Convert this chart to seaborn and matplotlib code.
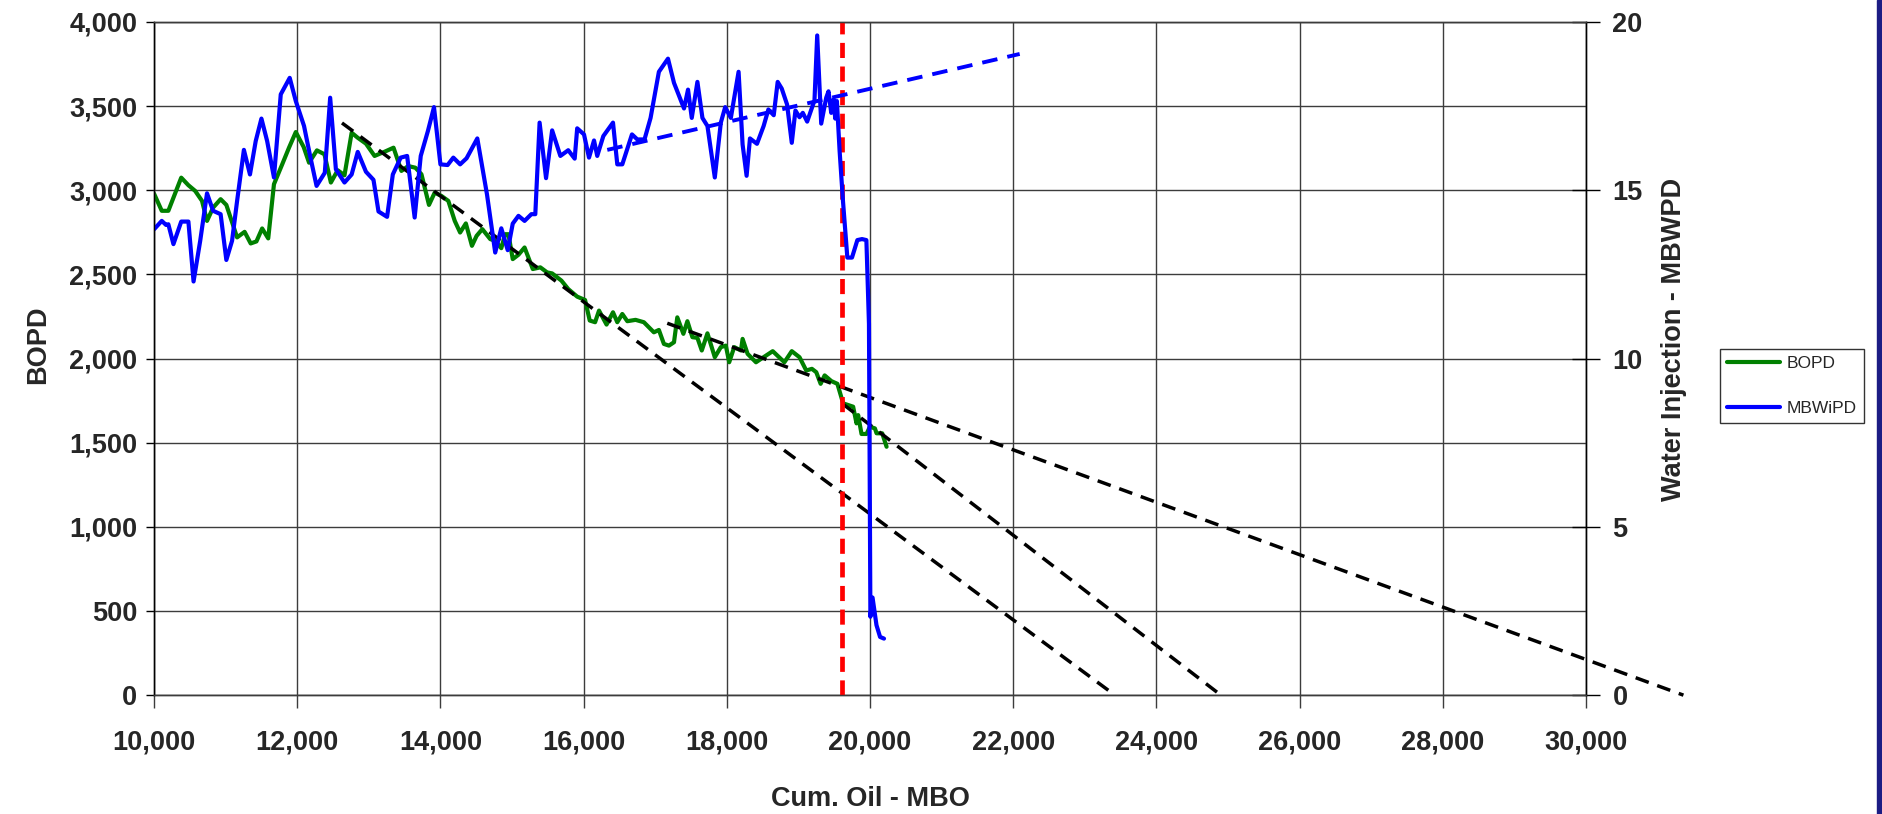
import matplotlib
matplotlib.use("Agg")
import matplotlib.pyplot as plt
import matplotlib.ticker as mticker
from matplotlib.patches import Rectangle
import seaborn as sns
import pandas as pd

# ---------------------------------------------------
# DATA
# ---------------------------------------------------

bopd_cum = [10000, 10108, 10200, 10380, 10480, 10575, 10670, 10740, 10825, 10930,
            11010, 11160, 11265, 11350, 11430, 11510, 11595, 11675, 11790, 11885,
            11980, 12090, 12165, 12275, 12380, 12470, 12565, 12660, 12760, 12845,
            12960, 13080, 13220, 13345, 13455, 13550, 13650, 13735, 13840, 13920,
            14015, 14110, 14200, 14275, 14355, 14440, 14505, 14585, 14695, 14765,
            14850, 14905, 14950, 15010, 15090, 15175, 15290, 15395, 15490, 15560,
            15690, 15785, 15910, 16020, 16085, 16160, 16215, 16320, 16410, 16470,
            16540, 16610, 16725, 16841, 16981, 17051, 17121, 17191, 17262, 17308,
            17393, 17449, 17519, 17589, 17650, 17729, 17832, 17916, 17986, 18033,
            18103, 18197, 18220, 18290, 18407, 18477, 18641, 18804, 18907, 19015,
            19109, 19188, 19249, 19310, 19366, 19460, 19544, 19624, 19694, 19764,
            19811, 19834, 19881, 19951, 19998, 20068, 20091, 20170, 20231]

bopd = [2980, 2878, 2878, 3075, 3030, 2996, 2937, 2818, 2897, 2947,
        2913, 2720, 2753, 2684, 2696, 2773, 2714, 3036, 3154, 3253,
        3346, 3257, 3164, 3237, 3214, 3046, 3119, 3089, 3342, 3312,
        3277, 3204, 3229, 3253, 3115, 3144, 3134, 3095, 2913, 2986,
        2966, 2937, 2818, 2749, 2803, 2670, 2729, 2769, 2710, 2700,
        2656, 2739, 2739, 2591, 2617, 2660, 2532, 2542, 2512, 2506,
        2463, 2413, 2368, 2348, 2226, 2216, 2285, 2202, 2275, 2216,
        2265, 2222, 2230, 2216, 2156, 2170, 2087, 2077, 2097, 2245,
        2147, 2222, 2127, 2123, 2048, 2150, 2008, 2068, 2077, 1978,
        2068, 2048, 2117, 2028, 1978, 1998, 2044, 1978, 2044, 2008,
        1929, 1939, 1919, 1850, 1900, 1866, 1850, 1734, 1724, 1714,
        1615, 1664, 1552, 1552, 1595, 1585, 1556, 1556, 1476]

wi_cum = [10000, 10108, 10168, 10200, 10271, 10380, 10480, 10552, 10645, 10740,
          10825, 10930, 11010, 11090, 11160, 11255, 11340, 11420, 11500, 11580,
          11675, 11770, 11895, 11980, 12095, 12180, 12270, 12385, 12460, 12540,
          12660, 12760, 12845, 12960, 13065, 13135, 13255, 13335, 13445, 13535,
          13640, 13725, 13825, 13910, 14000, 14100, 14180, 14275, 14365, 14515,
          14650, 14765, 14850, 14940, 15010, 15090, 15175, 15270, 15325, 15385,
          15475, 15560, 15675, 15785, 15875, 15910, 16005, 16075, 16145, 16190,
          16275, 16410, 16470, 16540, 16675, 16750, 16850, 16935, 17051, 17178,
          17262, 17402, 17458, 17510, 17589, 17659, 17729, 17832, 17916, 17977,
          18056, 18164, 18220, 18276, 18323, 18421, 18514, 18580, 18655, 18710,
          18767, 18841, 18907, 18958, 19015, 19061, 19122, 19188, 19224, 19262,
          19318, 19388, 19420, 19458, 19491, 19514, 19537, 19575, 19622, 19683,
          19748, 19823, 19888, 19949, 19985, 20005, 20035, 20090, 20140, 20195]

mbwipd = [13.84, 14.09, 13.97, 13.99, 13.40, 14.07, 14.07, 12.29, 13.50, 14.91,
          14.39, 14.29, 12.93, 13.50, 14.68, 16.20, 15.47, 16.46, 17.13, 16.46,
          15.38, 17.85, 18.34, 17.65, 16.91, 16.02, 15.13, 15.52, 17.75, 15.62,
          15.23, 15.47, 16.14, 15.55, 15.31, 14.37, 14.21, 15.47, 15.97, 16.02,
          14.19, 16.02, 16.76, 17.47, 15.77, 15.75, 15.97, 15.77, 15.95, 16.54,
          14.88, 13.15, 13.87, 13.22, 14.01, 14.24, 14.09, 14.29, 14.29, 17.01,
          15.36, 16.78, 16.02, 16.19, 15.94, 16.84, 16.66, 15.97, 16.48, 16.02,
          16.61, 17.01, 15.77, 15.77, 16.66, 16.51, 16.51, 17.15, 18.52, 18.91,
          18.19, 17.43, 17.99, 17.15, 18.22, 17.15, 16.91, 15.38, 17.01, 17.47,
          17.15, 18.52, 16.36, 15.43, 16.54, 16.38, 16.91, 17.40, 17.23, 18.22,
          18.02, 17.55, 16.41, 17.37, 17.17, 17.30, 17.04, 17.45, 17.67, 19.60,
          16.98, 17.75, 17.94, 17.30, 17.70, 17.13, 17.65, 16.17, 14.68, 13.00,
          13.00, 13.52, 13.55, 13.52, 11.03, 2.33, 2.90, 2.08, 1.73, 1.68]

# decline trend lines (BOPD axis)
trend_a_x = [12625, 23420]
trend_a_y = [3400, 0]
trend_b_x = [17168, 31360]
trend_b_y = [2210, 0]
trend_c_x = [19620, 24900]
trend_c_y = [1730, 0]

# injection trend (right axis)
wi_trend_x = [16330, 22090]
wi_trend_y = [16.2, 19.05]

event_cum = 19610

x_ticks = list(range(10000, 30001, 2000))
y_ticks = list(range(0, 4001, 500))
y2_ticks = [0, 5, 10, 15, 20]

# ---------------------------------------------------
# STYLE
# ---------------------------------------------------

sns.set_theme(style="white")
plt.rcParams["font.family"] = ["Liberation Sans", "DejaVu Sans"]

GREEN = "#008000"
BLUE = "#0000ff"
GRID = "#3c3c3c"
FS = 19.5

fig = plt.figure(figsize=(18.83, 8.14), dpi=100)
ax = fig.add_axes([0.0818, 0.146, 0.7605, 0.827])
ax2 = ax.twinx()

# ---------------------------------------------------
# SERIES
# ---------------------------------------------------

oil_df = pd.DataFrame({"cum": bopd_cum, "BOPD": bopd})
wi_df = pd.DataFrame({"cum": wi_cum, "MBWiPD": mbwipd})

sns.lineplot(data=oil_df, x="cum", y="BOPD", ax=ax, color=GREEN,
             linewidth=3.0, sort=False, label="BOPD", legend=False)

for tx, ty, clip in [(trend_a_x, trend_a_y, True),
                     (trend_b_x, trend_b_y, False),
                     (trend_c_x, trend_c_y, True)]:
    ln, = ax.plot(tx, ty, color="black", linewidth=2.5, clip_on=clip)
    ln.set_dashes((4, 2.6))

red = ax.axvline(event_cum, color="#ff0000", linewidth=3.4, zorder=5)
red.set_dashes((3.2, 1.8))

sns.lineplot(data=wi_df, x="cum", y="MBWiPD", ax=ax2, color=BLUE,
             linewidth=3.0, sort=False, label="MBWiPD", legend=False)
bl, = ax2.plot(wi_trend_x, wi_trend_y, color=BLUE, linewidth=2.8)
bl.set_dashes((4, 2.6))

# ---------------------------------------------------
# AXES
# ---------------------------------------------------

ax.set_xlim(10000, 30000)
ax.set_ylim(0, 4000)
ax2.set_ylim(0, 20)

ax.set_xticks(x_ticks)
ax.set_yticks(y_ticks)
ax2.set_yticks(y2_ticks)
fmt = mticker.FuncFormatter(lambda v, p: f"{int(v):,}")
ax.xaxis.set_major_formatter(fmt)
ax.yaxis.set_major_formatter(fmt)

ax.grid(True, color=GRID, linewidth=1.0)
ax2.grid(False)

for a in (ax, ax2):
    for s in a.spines.values():
        s.set_color(GRID)
        s.set_linewidth(1.0)
ax2.spines["right"].set_color("black")
ax2.spines["left"].set_color("black")

ax.tick_params(axis="y", direction="out", length=6, width=1, pad=6,
               labelsize=FS, left=True, color="black")
ax.tick_params(axis="x", direction="out", length=9, width=1, pad=16,
               labelsize=FS, bottom=True, color=GRID)
ax2.tick_params(axis="y", direction="inout", length=20, width=1, pad=9,
                labelsize=FS, right=True, color="black")

for lab in ax.get_xticklabels() + ax.get_yticklabels() + ax2.get_yticklabels():
    lab.set_fontweight("bold")

ax.set_xlabel("Cum. Oil - MBO", fontsize=FS, fontweight="bold", labelpad=22)
ax.set_ylabel("BOPD", fontsize=FS, fontweight="bold", labelpad=13)
ax2.set_ylabel("Water Injection - MBWPD", fontsize=FS, fontweight="bold",
               labelpad=13)
ax.yaxis.label.set_y(0.52)
ax2.yaxis.label.set_y(0.528)

# ---------------------------------------------------
# LEGEND
# ---------------------------------------------------

h1, l1 = ax.get_legend_handles_labels()
h2, l2 = ax2.get_legend_handles_labels()
leg = fig.legend(h1 + h2, l1 + l2, loc="upper left",
                 bbox_to_anchor=(0.9134, 0.571), borderaxespad=0,
                 fontsize=12.5, frameon=True, fancybox=False,
                 edgecolor="black", handlelength=3.05, borderpad=0.4,
                 labelspacing=1.7, handletextpad=0.4)
leg.get_frame().set_linewidth(1.0)

# slide border strip on the right edge
fig.patches.append(Rectangle((0.9968, 0), 0.0032, 1, transform=fig.transFigure,
                             color="#1c1c84", zorder=10))

fig.savefig("out.png", dpi=100)
